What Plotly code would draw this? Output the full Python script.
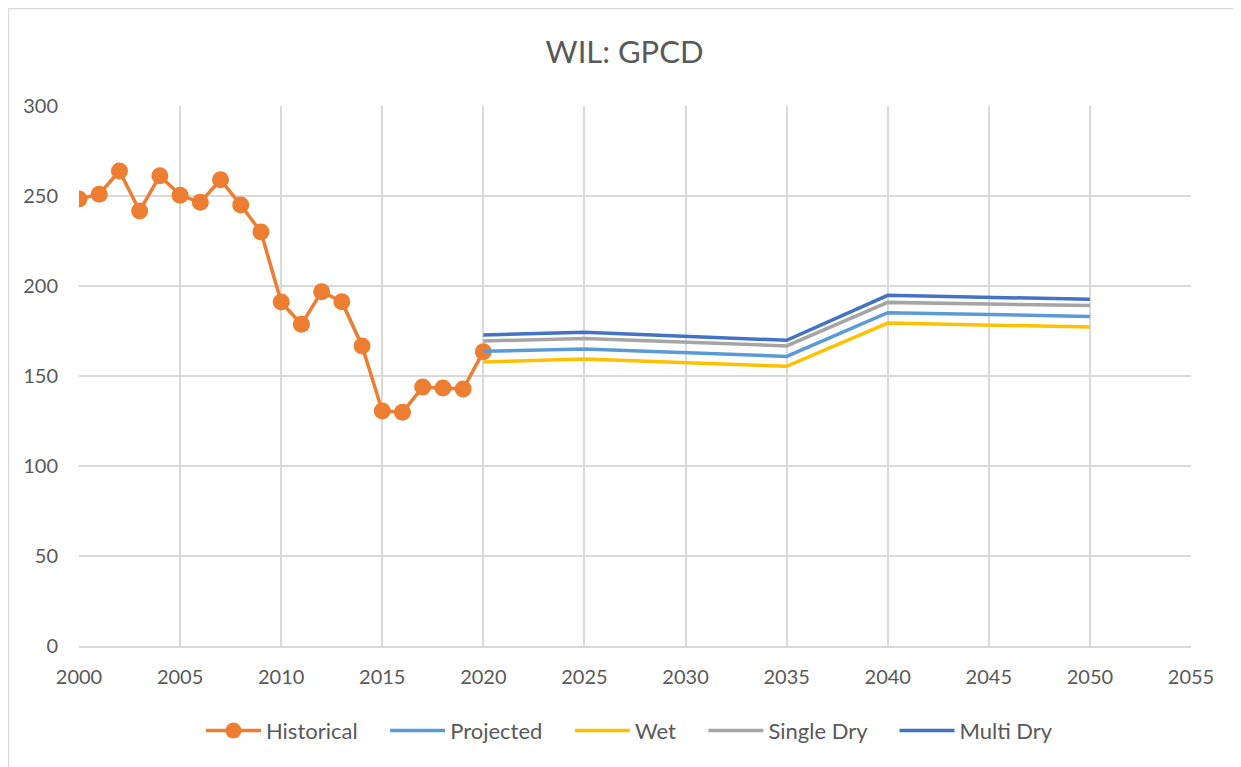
import plotly.graph_objects as go

# Historical GPCD
hist_years = list(range(2000, 2021))
hist_vals = [248.3, 251, 263.9, 241.7, 261.3, 250.4, 246.5, 259, 245, 230,
             191.1, 178.7, 196.8, 191.3, 166.7, 130.6, 129.8, 143.9, 143.3, 142.8, 163.5]

# Projection scenarios
proj_years = [2020, 2025, 2035, 2040, 2050]
projected = [163.7, 165.0, 160.9, 185.2, 183.1]
wet = [157.8, 159.4, 155.4, 179.4, 177.2]
single_dry = [169.4, 170.9, 166.7, 190.9, 189.1]
multi_dry = [172.8, 174.3, 169.8, 194.8, 192.6]

FONT = "Lato"
TEXT = "#595959"
GRID = "#d9d9d9"
PAD = "\u00a0" * 4  # extra gap between legend entries

fig = go.Figure()

fig.add_trace(go.Scatter(
    x=hist_years, y=hist_vals, name="Historical" + PAD, mode="lines+markers",
    line=dict(color="#ED7D31", width=3.5),
    marker=dict(color="#ED7D31", size=17)
))

for name, vals, col in [("Projected" + PAD, projected, "#5B9BD5"),
                        ("Wet" + PAD, wet, "#FFC000"),
                        ("Single Dry" + PAD, single_dry, "#A5A5A5"),
                        ("Multi Dry", multi_dry, "#4472C4")]:
    fig.add_trace(go.Scatter(
        x=proj_years, y=vals, name=name, mode="lines",
        line=dict(color=col, width=3.5)
    ))

# page has an 8px body margin, so the figure is sized/shifted to compensate
fig.update_layout(
    width=1233, height=759,
    margin=dict(l=71, r=50, t=98, b=121),
    paper_bgcolor="white", plot_bgcolor="white",
    font=dict(family=FONT, color=TEXT, size=20),
    title=dict(text="WIL: GPCD", x=0.5, xanchor="center", y=0.942, yanchor="middle",
               font=dict(size=31, color=TEXT, family=FONT)),
    legend=dict(orientation="h", x=0.495, xanchor="center", y=-0.157, yanchor="middle",
                font=dict(size=22, color=TEXT), itemwidth=55, traceorder="normal"),
    shapes=[dict(type="rect", xref="paper", yref="paper",
                 x0=-0.0634, x1=1.2, y0=-0.4, y1=1.1806,
                 line=dict(color=GRID, width=1.5))]
)

fig.update_xaxes(range=[2000, 2055], dtick=5, tick0=2000, showgrid=True, gridcolor=GRID,
                 gridwidth=1.5, zeroline=False, showline=True, linecolor=GRID, linewidth=1.5,
                 ticks="", tickfont=dict(size=20, color=TEXT), ticklabelstandoff=12)
fig.update_yaxes(range=[0, 300], dtick=50, showgrid=True, gridcolor=GRID, gridwidth=1.5,
                 zeroline=False, showline=False, ticks="", tickfont=dict(size=20, color=TEXT),
                 ticklabelstandoff=20)

fig.write_html("out.html")
